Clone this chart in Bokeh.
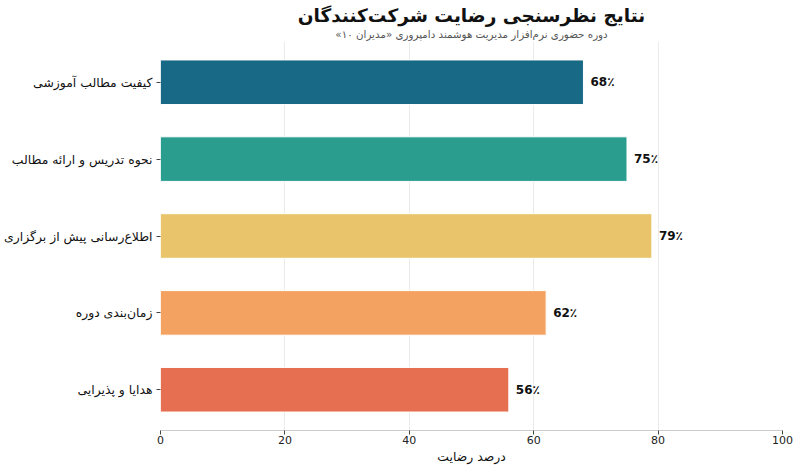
from bokeh.plotting import figure
from bokeh.models import ColumnDataSource, FactorRange, Range1d, LabelSet, Title, FixedTicker
from bokeh.core.properties import value
from bokeh.embed import file_html
from bokeh.resources import INLINE

categories = [
    "کیفیت مطالب آموزشی",
    "نحوه تدریس و ارائه مطالب",
    "اطلاع‌رسانی پیش از برگزاری",
    "زمان‌بندی دوره",
    "هدایا و پذیرایی",
]
values = [68, 75, 79, 62, 56]
colors = ["#186985", "#2a9d8f", "#e9c46a", "#f4a261", "#e76f51"]
x_ticks = [0, 20, 40, 60, 80, 100]
title_text = "نتایج نظرسنجی رضایت شرکت‌کنندگان"
subtitle_text = "دوره حضوری نرم‌افزار مدیریت هوشمند دامپروری «مدیران ۱۰»"
x_label = "درصد رضایت"

FONT = "DejaVu Sans"
W, H = 800, 468

source = ColumnDataSource(dict(
    cat=categories,
    val=values,
    color=colors,
    label=[f"{v}٪" for v in values],
))

p = figure(
    width=W, height=H,
    y_range=FactorRange(factors=list(reversed(categories)), range_padding=0.012),
    x_range=Range1d(0, 100),
    output_backend="svg", toolbar_location=None,
    min_border_left=160, min_border_right=18, min_border_top=41, min_border_bottom=38,
)

p.add_layout(Title(text="\u202b" + subtitle_text + "\u202c", text_font=FONT,
                   text_font_size="10.3px", text_font_style="normal",
                   text_color="#555555", align="center", standoff=4, offset=0), "above")
p.add_layout(Title(text=title_text, text_font=FONT, text_font_size="18.5px",
                   text_font_style="bold", text_color="#111111", align="center",
                   standoff=-4), "above")

p.hbar(y="cat", right="val", left=0, height=0.58, color="color",
       line_color="white", line_width=1, source=source)

labels = LabelSet(x="val", y="cat", text="label", source=source, x_offset=7,
                  text_baseline="middle", text_align="left",
                  text_font=value(FONT), text_font_size="12px", text_font_style="bold",
                  text_color="#111111")
p.add_layout(labels)

p.outline_line_color = None
p.ygrid.grid_line_color = None
p.xgrid.grid_line_color = "#ebebeb"
p.xgrid.grid_line_width = 1

p.xaxis.ticker = FixedTicker(ticks=x_ticks)
p.xaxis.axis_label = x_label
p.xaxis.axis_label_text_font = FONT
p.xaxis.axis_label_text_font_size = "12.4px"
p.xaxis.axis_label_text_font_style = "normal"
p.xaxis.axis_label_text_color = "#111111"
p.xaxis.axis_label_standoff = 2
p.xaxis.axis_line_color = "#cccccc"
p.xaxis.major_tick_line_color = "#444444"
p.xaxis.major_tick_out = 4
p.xaxis.major_tick_in = 0
p.xaxis.minor_tick_line_color = None
p.xaxis.major_label_text_font = FONT
p.xaxis.major_label_text_font_size = "11px"
p.xaxis.major_label_text_color = "#222222"
p.xaxis.major_label_standoff = 1

p.yaxis.axis_line_color = None
p.yaxis.major_tick_line_color = "#444444"
p.yaxis.major_tick_out = 4
p.yaxis.major_tick_in = 0
p.yaxis.major_label_text_font = FONT
p.yaxis.major_label_text_font_size = "12.4px"
p.yaxis.major_label_text_color = "#111111"
p.yaxis.major_label_standoff = 4

open("out.html", "w").write(file_html(p, INLINE))
